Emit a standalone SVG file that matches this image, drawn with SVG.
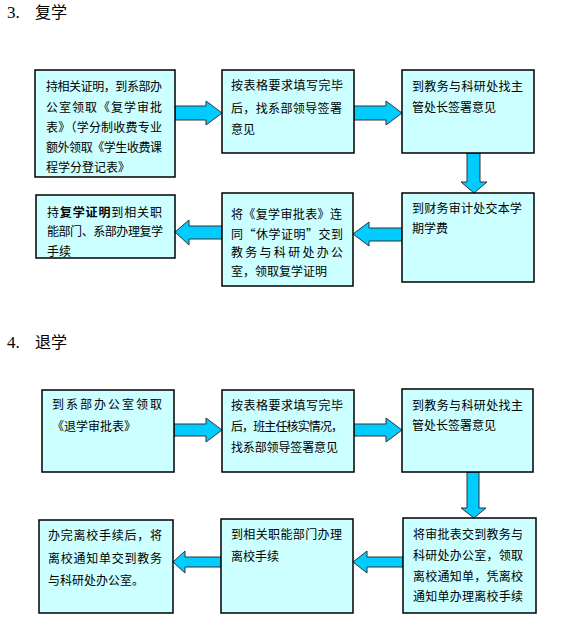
<svg xmlns="http://www.w3.org/2000/svg" width="562" height="632" viewBox="0 0 562 632">
<style>
.box{fill:#CCFFFF;stroke:#000;stroke-width:1.5}
.t{font-family:"Noto Sans CJK SC","Noto Sans CJK JP",sans-serif;font-size:12px;fill:#000}
.h{font-family:"Liberation Serif","Noto Sans CJK SC",serif;font-size:17px;fill:#000}
.hc{font-family:"Noto Sans CJK SC",sans-serif;font-size:16px}
.arr{fill:#00CCFF;stroke:#333;stroke-width:1}
.b{font-weight:bold}
</style>
<rect width="562" height="632" fill="#fff"/>
<text class="h" x="7" y="18">3.<tspan class="hc" x="35">复学</tspan></text>
<text class="h" x="7" y="348">4.<tspan class="hc" x="35">退学</tspan></text>

<g id="connectors">
<polygon class="arr" points="175,106 206,106 206,101 222,113 206,125 206,120 175,120"/>
<polygon class="arr" points="354,106 386,106 386,101 402,113 386,125 386,120 354,120"/>
<polygon class="arr" points="467,153 480,153 480,182 487,182 474,193 461,182 467,182"/>
<polygon class="arr" points="402,228 369,228 369,222 353,234 369,246 369,241 402,241"/>
<polygon class="arr" points="222,226 189,226 189,220 175,232 189,245 189,239 222,239"/>
<polygon class="arr" points="174,424 206,424 206,418 222,430 206,442 206,436 174,436"/>
<polygon class="arr" points="354,424 386,424 386,418 402,430 386,442 386,436 354,436"/>
<polygon class="arr" points="467,472 479,472 479,508 486,508 474,518 461,508 467,508"/>
<polygon class="arr" points="403,557 367,557 367,551 353,562 367,573 367,567 403,567"/>
<polygon class="arr" points="221,557 185,557 185,551 173,562 185,573 185,567 221,567"/>
</g>

<g id="n1">
<rect class="box" x="35" y="70" width="140" height="107"/>
<text class="t" x="46" y="91" textLength="116" lengthAdjust="spacing">持相关证明，到系部办</text>
<text class="t" x="46" y="112" textLength="116" lengthAdjust="spacing">公室领取《复学审批</text>
<text class="t" x="46" y="132" textLength="116" lengthAdjust="spacing">表》（学分制收费专业</text>
<text class="t" x="46" y="152" textLength="116" lengthAdjust="spacing">额外领取《学生收费课</text>
<text class="t" x="46" y="172">程学分登记表》</text>
</g>
<g id="n2">
<rect class="box" x="222" y="70" width="132" height="83"/>
<text class="t" x="231" y="90" textLength="112" lengthAdjust="spacing">按表格要求填写完毕</text>
<text class="t" x="231" y="113" textLength="111" lengthAdjust="spacing">后，找系部领导签署</text>
<text class="t" x="231" y="134">意见</text>
</g>
<g id="n3">
<rect class="box" x="402" y="70" width="132" height="83"/>
<text class="t" x="412" y="91" textLength="111" lengthAdjust="spacing">到教务与科研处找主</text>
<text class="t" x="412" y="112">管处长签署意见</text>
</g>
<g id="n4">
<rect class="box" x="402" y="193" width="132" height="89"/>
<text class="t" x="412" y="213" textLength="110" lengthAdjust="spacing">到财务审计处交本学</text>
<text class="t" x="412" y="233">期学费</text>
</g>
<g id="n5">
<rect class="box" x="222" y="193" width="131" height="93"/>
<text class="t" x="231" y="219" textLength="111" lengthAdjust="spacing">将《复学审批表》连</text>
<text class="t" x="231" y="239" textLength="112" lengthAdjust="spacing">同“休学证明”交到</text>
<text class="t" x="231" y="257" textLength="112" lengthAdjust="spacing">教务与科研处办公</text>
<text class="t" x="231" y="276">室，领取复学证明</text>
</g>
<g id="n6">
<rect class="box" x="36" y="195" width="139" height="63"/>
<text class="t" x="47" y="217" textLength="115" lengthAdjust="spacing">持<tspan class="b">复学证明</tspan>到相关职</text>
<text class="t" x="47" y="236" textLength="116" lengthAdjust="spacing">能部门、系部办理复学</text>
<text class="t" x="47" y="256">手续</text>
</g>

<g id="n7">
<rect class="box" x="42" y="390" width="132" height="82"/>
<text class="t" x="52" y="409" textLength="110" lengthAdjust="spacing">到系部办公室领取</text>
<text class="t" x="52" y="431">《退学审批表》</text>
</g>
<g id="n8">
<rect class="box" x="222" y="390" width="132" height="82"/>
<text class="t" x="231" y="410" textLength="112" lengthAdjust="spacing">按表格要求填写完毕</text>
<text class="t" x="231" y="431" textLength="112" lengthAdjust="spacing">后，班主任核实情况，</text>
<text class="t" x="231" y="452" textLength="107" lengthAdjust="spacing">找系部领导签署意见</text>
</g>
<g id="n9">
<rect class="box" x="402" y="389" width="131" height="83"/>
<text class="t" x="412" y="410" textLength="111" lengthAdjust="spacing">到教务与科研处找主</text>
<text class="t" x="412" y="430">管处长签署意见</text>
</g>
<g id="n10">
<rect class="box" x="403" y="518" width="133" height="95"/>
<text class="t" x="413" y="539" textLength="110" lengthAdjust="spacing">将审批表交到教务与</text>
<text class="t" x="413" y="560" textLength="110" lengthAdjust="spacing">科研处办公室，领取</text>
<text class="t" x="413" y="581" textLength="110" lengthAdjust="spacing">离校通知单，凭离校</text>
<text class="t" x="413" y="601" textLength="110" lengthAdjust="spacing">通知单办理离校手续</text>
</g>
<g id="n11">
<rect class="box" x="221" y="519" width="132" height="94"/>
<text class="t" x="231" y="539" textLength="111" lengthAdjust="spacing">到相关职能部门办理</text>
<text class="t" x="231" y="561">离校手续</text>
</g>
<g id="n12">
<rect class="box" x="39" y="520" width="134" height="93"/>
<text class="t" x="48" y="540" textLength="114" lengthAdjust="spacing">办完离校手续后，将</text>
<text class="t" x="48" y="563" textLength="114" lengthAdjust="spacing">离校通知单交到教务</text>
<text class="t" x="48" y="585">与科研处办公室。</text>
</g>
</svg>
